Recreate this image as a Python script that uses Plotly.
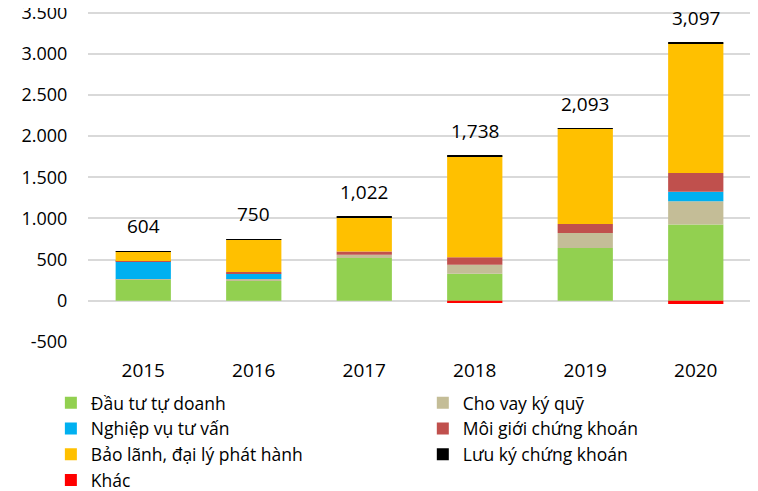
import plotly.graph_objects as go

years = ["2015", "2016", "2017", "2018", "2019", "2020"]

dau_tu_tu_doanh = [262, 240, 520, 330, 641, 928]
cho_vay_ky_quy = [3, 25, 40, 109, 182, 280]
nghiep_vu_tu_van = [215, 65, 0, 0, 0, 117]
moi_gioi = [5, 20, 40, 89, 109, 226]
bao_lanh = [115, 395, 412, 1230, 1156, 1578]
luu_ky = [4, 5, 10, 5, 5, 8]
khac = [0, 0, 0, -25, 0, -40]

# (name, values, colour, legend column)
series = [
    ("Đầu tư tự doanh", dau_tu_tu_doanh, "#92D050", "legend"),
    ("Cho vay ký quỹ", cho_vay_ky_quy, "#C4BD97", "legend2"),
    ("Nghiệp vụ tư vấn", nghiep_vu_tu_van, "#00B0F0", "legend"),
    ("Môi giới chứng khoán", moi_gioi, "#C0504D", "legend2"),
    ("Bảo lãnh, đại lý phát hành", bao_lanh, "#FFC000", "legend"),
    ("Lưu ký chứng khoán", luu_ky, "#000000", "legend2"),
    ("Khác", khac, "#FF0000", "legend"),
]

y_ticks = [-500, 0, 500, 1000, 1500, 2000, 2500, 3000, 3500]
y_ticktext = ["-500", "0", "500", "1.000", "1.500", "2.000", "2.500", "3.000", "3.500"]

FONT = "Open Sans"

fig = go.Figure()
for name, vals, color, lg in series:
    fig.add_trace(go.Bar(
        x=years, y=vals, name=name, legend=lg,
        marker=dict(color=color, line=dict(width=0)),
    ))

totals = [sum(s[1][i] for s in series) for i in range(len(years))]
pos_tops = [sum(max(s[1][i], 0) for s in series) for i in range(len(years))]
for i, (tot, top) in enumerate(zip(totals, pos_tops)):
    fig.add_annotation(
        x=i, y=top, text=f"{tot:,}", showarrow=False,
        yanchor="middle", yshift=25,
        font=dict(family=FONT, size=19, color="#000000"),
    )

legend_common = dict(
    orientation="v",
    xanchor="left", yanchor="bottom",
    font=dict(family=FONT, size=17.5, color="#000000"),
    traceorder="normal",
    bgcolor="rgba(0,0,0,0)",
)

LEG_BOTTOM = -0.471
ROW = 25.0 / 331

fig.update_layout(
    barmode="relative",
    bargap=0.5,
    width=750, height=483,
    margin=dict(l=80, r=7, t=3, b=149, autoexpand=False),
    paper_bgcolor="white",
    plot_bgcolor="white",
    font=dict(family=FONT, size=17, color="#000000"),
    showlegend=True,
    legend=dict(x=-0.056, y=LEG_BOTTOM, **legend_common),
    legend2=dict(x=0.505, y=LEG_BOTTOM + ROW, **legend_common),
    xaxis=dict(
        type="category", automargin=False,
        showgrid=False, showline=False,
        ticks="outside", ticklen=11, tickcolor="rgba(0,0,0,0)",
        tickfont=dict(family=FONT, size=19),
    ),
    yaxis=dict(
        range=[-500, 3520], automargin=False,
        tickvals=y_ticks, ticktext=y_ticktext,
        ticklabeloverflow="allow",
        showgrid=True, gridcolor="#D9D9D9", gridwidth=1.5,
        zeroline=True, zerolinecolor="#D9D9D9", zerolinewidth=1.5,
        showline=False,
        ticks="outside", ticklen=16, tickcolor="rgba(0,0,0,0)",
        tickfont=dict(family=FONT, size=18),
    ),
)

fig.write_html("out.html")
